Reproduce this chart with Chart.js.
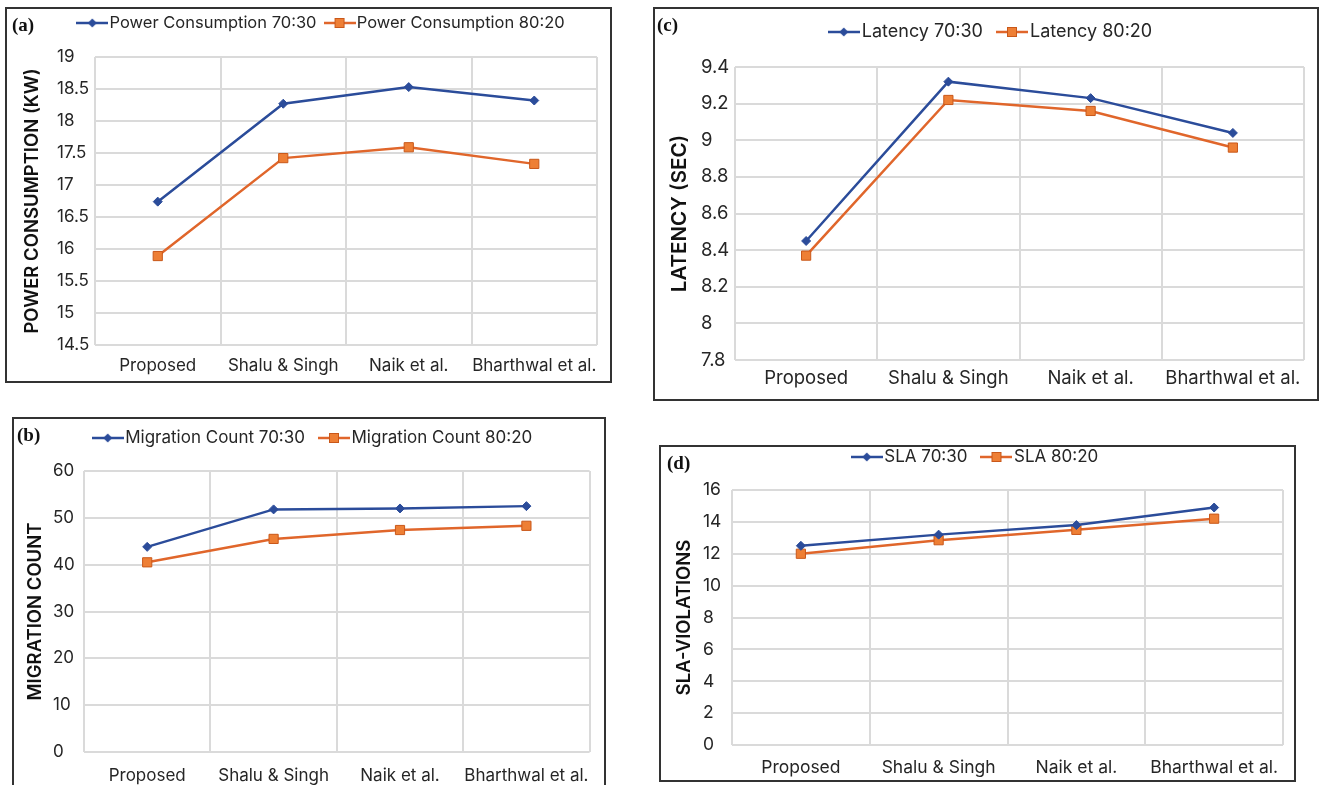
<!DOCTYPE html>
<html>
<head>
<meta charset="utf-8">
<script src="https://cdn.jsdelivr.net/npm/chart.js@4.4.1/dist/chart.umd.min.js"></script>
<style>
  html, body { margin: 0; padding: 0; background: #fff; }
  body { width: 1320px; height: 785px; position: relative; overflow: hidden; }
  .panel { position: absolute; border: 2px solid #333; box-sizing: border-box; background: #fff; overflow: hidden; }
  .panel canvas { position: absolute; left: 0; top: 0; }
  .tag { position: absolute; font: bold 19px 'Liberation Serif', serif; line-height: 20px; color: #111; z-index: 2; }
</style>
</head>
<body>
<div class="panel" style="left:5px;top:7px;width:607px;height:376px"><canvas id="chartA" width="603" height="372"></canvas></div>
<div class="panel" style="left:653px;top:7px;width:666px;height:394px"><canvas id="chartC" width="662" height="390"></canvas></div>
<div class="panel" style="left:12px;top:417px;width:594px;height:380px"><canvas id="chartB" width="590" height="376"></canvas></div>
<div class="panel" style="left:659px;top:445px;width:637px;height:337px"><canvas id="chartD" width="633" height="333"></canvas></div>
<div class="tag" style="left:12px;top:15px">(a)</div>
<div class="tag" style="left:657px;top:15px">(c)</div>
<div class="tag" style="left:17px;top:425px">(b)</div>
<div class="tag" style="left:667px;top:453px">(d)</div>
<script>
// data
const categories = ['Proposed', 'Shalu & Singh', 'Naik et al.', 'Bharthwal et al.'];

const power7030 = [16.74, 18.27, 18.53, 18.32];
const power8020 = [15.89, 17.42, 17.59, 17.33];
const powerTicks = { min: 14.5, max: 19, step: 0.5 };

const latency7030 = [8.45, 9.32, 9.23, 9.04];
const latency8020 = [8.37, 9.22, 9.16, 8.96];
const latencyTicks = { min: 7.8, max: 9.4, step: 0.2 };

const migration7030 = [43.8, 51.8, 52.0, 52.5];
const migration8020 = [40.5, 45.5, 47.4, 48.3];
const migrationTicks = { min: 0, max: 60, step: 10 };

const sla7030 = [12.5, 13.2, 13.8, 14.9];
const sla8020 = [12.0, 12.85, 13.5, 14.2];
const slaTicks = { min: 0, max: 16, step: 2 };

// styles
const FONT = 'Inter, "Noto Sans", sans-serif';
const TEXT = '#262626';
const GRID = '#dadada';
const BLUE = '#2b4c9a';
const ORANGE = '#e0662b';
const ORANGE_FILL = '#ee7f35';
const ORANGE_EDGE = '#c9581a';

// small line + marker picture used as legend symbol
function legendMark(kind) {
    const c = document.createElement('canvas');
    c.width = 32;
    c.height = 14;
    const g = c.getContext('2d');
    g.lineWidth = 2.5;
    g.strokeStyle = kind === 'blue' ? BLUE : ORANGE;
    g.beginPath();
    g.moveTo(0, 7);
    g.lineTo(32, 7);
    g.stroke();
    if (kind === 'blue') {
        g.fillStyle = BLUE;
        g.beginPath();
        g.moveTo(16, 2.5); g.lineTo(20.5, 7); g.lineTo(16, 11.5); g.lineTo(11.5, 7);
        g.closePath();
        g.fill();
    } else {
        g.fillStyle = ORANGE_FILL;
        g.strokeStyle = ORANGE_EDGE;
        g.lineWidth = 1;
        g.fillRect(11.5, 2.5, 9, 9);
        g.strokeRect(11.5, 2.5, 9, 9);
    }
    return c;
}
const marks = [legendMark('blue'), legendMark('orange')];

function buildPanel(id, p) {
    const canvas = document.getElementById(id);
    const W = canvas.width, H = canvas.height;
    const [pl, pt, pr, pb] = p.plot;
    const lp = p.legendGap;
    const legendTop = p.legendY - lp - p.legendSize / 2;
    const titlePad = p.titleX - p.labelX - p.titleSize * 0.6;

    const fixLegend = {
        id: 'fixLegend',
        beforeInit(chart) {
            const fit = chart.legend.fit;
            chart.legend.fit = function () {
                fit.call(chart.legend);
                this.height = pt - legendTop;
            };
        },
        afterLayout(chart) {
            chart.legend.left += p.legendDx;
            chart.legend.right += p.legendDx;
        }
    };

    return new Chart(canvas, {
        type: 'line',
        data: {
            labels: categories,
            datasets: [{
                label: p.name + ' 70:30',
                data: p.a,
                borderColor: BLUE,
                backgroundColor: BLUE,
                borderWidth: 2.5,
                pointStyle: 'rectRot',
                pointRadius: 4.5,
                pointBorderWidth: 1,
                pointBorderColor: BLUE
            }, {
                label: p.name + ' 80:20',
                data: p.b,
                borderColor: ORANGE,
                backgroundColor: ORANGE_FILL,
                borderWidth: 2.5,
                pointStyle: 'rect',
                pointRadius: 6.5,
                pointBorderWidth: 1,
                pointBorderColor: ORANGE_EDGE
            }]
        },
        options: {
            responsive: false,
            animation: false,
            events: [],
            layout: { padding: { left: p.labelX, right: W - pr, top: legendTop, bottom: 0 } },
            plugins: {
                tooltip: { enabled: false },
                legend: {
                    position: 'top',
                    labels: {
                        usePointStyle: true,
                        pointStyleWidth: 18,
                        padding: lp,
                        color: TEXT,
                        font: { family: FONT, size: p.legendSize },
                        generateLabels(chart) {
                            const items = Chart.defaults.plugins.legend.labels.generateLabels(chart);
                            items.forEach((it, i) => { it.pointStyle = marks[i]; });
                            return items;
                        }
                    }
                }
            },
            scales: {
                x: {
                    offset: true,
                    grid: { offset: true, color: GRID, lineWidth: 2, drawTicks: false },
                    border: { display: false },
                    ticks: {
                        color: TEXT,
                        padding: p.xPad,
                        maxRotation: 0,
                        autoSkip: false,
                        font: { family: FONT, size: p.tickSize }
                    },
                    afterFit(s) { s.height = H - pb; }
                },
                y: {
                    min: p.ticks.min,
                    max: p.ticks.max,
                    grid: { color: GRID, lineWidth: 2, drawTicks: false },
                    border: { display: false },
                    ticks: {
                        stepSize: p.ticks.step,
                        crossAlign: 'far',
                        color: TEXT,
                        font: { family: FONT, size: p.tickSize },
                        callback: v => String(Number(v.toFixed(2)))
                    },
                    title: {
                        display: true,
                        text: p.title,
                        color: '#111',
                        padding: { top: titlePad, bottom: 0 },
                        font: { family: FONT, size: p.titleSize, weight: '600' }
                    },
                    afterFit(s) { s.width = pl - p.labelX; }
                }
            }
        },
        plugins: [fixLegend]
    });
}

buildPanel('chartA', {
    name: 'Power Consumption', a: power7030, b: power8020, ticks: powerTicks,
    title: 'POWER CONSUMPTION (KW)',
    plot: [88, 48, 590, 336], labelX: 50, titleX: 25, titleSize: 18.5,
    tickSize: 17, xPad: 11, legendY: 14, legendSize: 16.5, legendGap: 14, legendDx: -3
});

buildPanel('chartC', {
    name: 'Latency', a: latency7030, b: latency8020, ticks: latencyTicks,
    title: 'LATENCY (SEC)',
    plot: [80, 58, 649, 351], labelX: 46, titleX: 25, titleSize: 20.5,
    tickSize: 18.5, xPad: 7, legendY: 23, legendSize: 18, legendGap: 20, legendDx: -9
});

buildPanel('chartB', {
    name: 'Migration Count', a: migration7030, b: migration8020, ticks: migrationTicks,
    title: 'MIGRATION COUNT',
    plot: [70, 52, 578, 333], labelX: 39, titleX: 21, titleSize: 18.5,
    tickSize: 17, xPad: 14, legendY: 19, legendSize: 17, legendGap: 20, legendDx: -7
});

buildPanel('chartD', {
    name: 'SLA', a: sla7030, b: sla8020, ticks: slaTicks,
    title: 'SLA-VIOLATIONS',
    plot: [71, 43, 622, 298], labelX: 42, titleX: 23, titleSize: 18.5,
    tickSize: 17.5, xPad: 12, legendY: 10, legendSize: 17, legendGap: 20, legendDx: -15
});
</script>
</body>
</html>
